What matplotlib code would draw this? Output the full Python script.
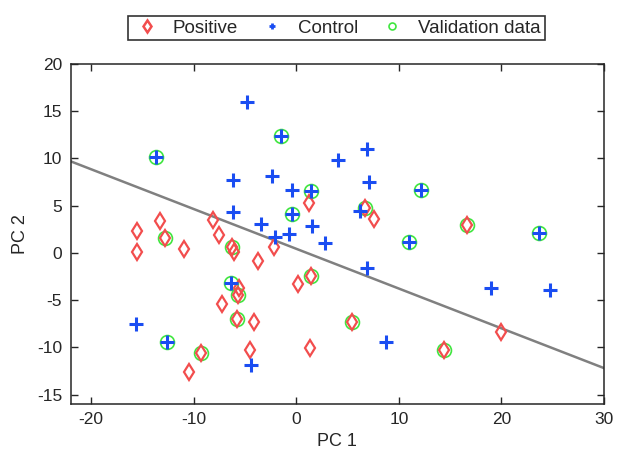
import matplotlib.pyplot as plt
from matplotlib.lines import Line2D

plt.rcParams["font.family"] = ["Liberation Sans", "DejaVu Sans"]
plt.rcParams["axes.unicode_minus"] = False

# Positive samples (red diamonds)
pos_x = [1.24, -13.27, -8.14, -15.5, -7.53, -15.5, -12.8, -10.9, -6.3, -6.07,
         -3.7, -2.17, 1.4, 0.2, -5.58, -5.7, -7.2, -5.8, -4.09, -9.28,
         -10.42, -4.5, 1.33, 5.45, 14.38, 20.0, 6.75, 7.57, 16.6]
pos_y = [5.26, 3.4, 3.5, 2.28, 1.9, 0.14, 1.55, 0.42, 0.6, 0.1,
         -0.87, 0.6, -2.46, -3.33, -3.7, -4.5, -5.44, -6.95, -7.3, -10.63,
         -12.56, -10.28, -10.1, -7.3, -10.28, -8.35, 4.8, 3.58, 2.9]

# Control samples (blue plus)
ctl_x = [-4.77, -1.52, -13.7, 4.1, -6.13, -2.4, -0.39, 1.4, -0.39, -6.13,
         -3.4, 1.56, -2.07, -0.68, 2.8, -6.39, -15.64, -12.56, -4.44, 6.91,
         6.91, 7.1, 12.2, 6.2, 10.97, 23.66, 19.0, 24.7, 8.73]
ctl_y = [16.0, 12.4, 10.1, 9.8, 7.7, 8.1, 6.67, 6.56, 4.17, 4.35,
         3.05, 2.88, 1.7, 2.0, 1.05, -3.2, -7.54, -9.47, -11.86, 11.05,
         -1.58, 7.5, 6.67, 4.46, 1.19, 2.1, -3.68, -3.97, -9.4]

# Validation data (green circles)
val_x = [-12.8, -6.3, 1.4, -5.7, -5.8, -9.28, 5.45, 14.38, 16.6, 6.75,
         -13.7, -1.52, 1.4, -0.39, -6.39, -12.56, 10.97, 12.2, 23.66]
val_y = [1.55, 0.6, -2.46, -4.5, -6.95, -10.63, -7.3, -10.28, 2.9, 4.8,
         10.1, 12.4, 6.56, 4.17, -3.2, -9.47, 1.19, 6.67, 2.1]

# Decision boundary
line_x = [-22, 30]
line_y = [9.7, -12.2]

red = (0.95, 0.3, 0.3)
blue = (0.1, 0.3, 0.95)
green = (0.25, 0.9, 0.25)
axc = (0.15, 0.15, 0.15)

fig = plt.figure(figsize=(6.17, 4.59), dpi=100)
ax = fig.add_axes([0.1143, 0.1198, 0.8647, 0.7408])

ax.plot(line_x, line_y, color=(0.5, 0.5, 0.5), lw=1.8, zorder=1)
ax.plot(val_x, val_y, ls="none", marker="o", ms=10, mfc="none", mec=green,
        mew=1.2, zorder=2)
ax.plot(pos_x, pos_y, ls="none", marker="d", ms=8, mfc="none", mec=red,
        mew=1.6, zorder=3)
ax.plot(ctl_x, ctl_y, ls="none", marker="+", ms=10, mec=blue, mew=2.2,
        zorder=4)

ax.set_xlim(-22, 30)
ax.set_ylim(-16, 20)
ax.set_xticks([-20, -10, 0, 10, 20, 30])
ax.set_yticks([-15, -10, -5, 0, 5, 10, 15, 20])
ax.tick_params(direction="in", top=True, right=True, length=5, width=1,
               color=axc, labelsize=12.5, labelcolor=axc, pad=6)
for s in ax.spines.values():
    s.set_color(axc)
    s.set_linewidth(1.1)

ax.set_xlabel("PC 1", fontsize=13, color=axc, labelpad=4)
ax.set_ylabel("PC 2", fontsize=13, color=axc, labelpad=6)

handles = [
    Line2D([0], [0], ls="none", marker="d", ms=6, mfc="none", mec=red,
           mew=1.8, label="Positive"),
    Line2D([0], [0], ls="none", marker="+", ms=5, mec=blue, mew=2,
           label="Control"),
    Line2D([0], [0], ls="none", marker="o", ms=5, mfc="none", mec=green,
           mew=1.2, label="Validation data"),
]
leg = fig.legend(handles=handles, loc="center", bbox_to_anchor=(0.545, 0.939),
                 ncol=3, fontsize=13.5, frameon=True, fancybox=False,
                 handlelength=1.6, handletextpad=0.6, columnspacing=1.0,
                 borderpad=0.2)
leg.get_frame().set_edgecolor("black")
leg.get_frame().set_linewidth(1.2)
for t in leg.get_texts():
    t.set_color(axc)

fig.savefig("out.png", dpi=100)
